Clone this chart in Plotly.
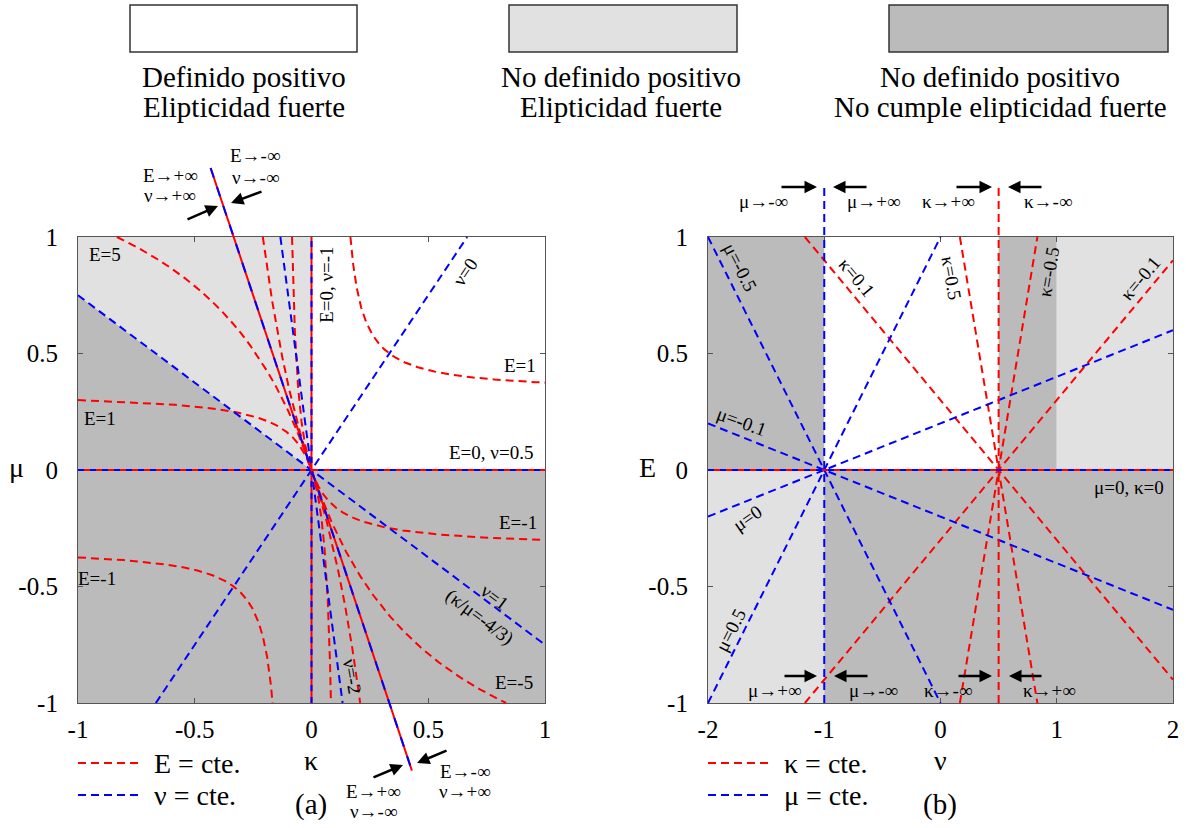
import numpy as np
import plotly.graph_objects as go

W, H = 1186, 828

# ---------------- data ----------------
# panel (a): plane (kappa, mu)
E_levels_a = [5, 1, -1, -5]            # E = cte. curves
nu_levels_a = [0, 1, -2]               # nu = cte. lines (nu=-1 -> kappa=0, nu=0.5 -> mu=0)
inf_kappa_range = [-0.432, 0.430]      # extent of the E,nu -> +-inf line (mu = -3 kappa)
# panel (b): plane (nu, E)
kappa_levels_b = [0.1, 0.5, -0.5, -0.1]
mu_levels_b = [-0.5, -0.1, 0.1, 0.5]
asym_E_range = [-1.0, 1.22]            # extent of nu=-1 (mu->+-inf) and nu=0.5 (kappa->+-inf)

ticks_a_x = [-1, -0.5, 0, 0.5, 1]
ticks_b_x = [-2, -1, 0, 1, 2]
ticks_y = [-1, -0.5, 0, 0.5, 1]
labels_a_x = ['-1', '-0.5', '0', '0.5', '1']
labels_b_x = ['-2', '-1', '0', '1', '2']
labels_y = ['-1', '-0.5', '0', '0.5', '1']

RED = '#ff0000'
BLUE = '#0000ff'
DARK = '#bbbbbb'
LIGHT = '#e1e1e1'
FONT = 'Liberation Serif, Times New Roman, serif'
DASH = '8px,5px'
LW = 2

# ---------------- layout geometry (pixels) ----------------
FL = (78, 545)
FR = (708, 1173)
FY = (237, 703)
EXT = 1.45


def px(x):
    return x / W


def py(y):
    return 1 - y / H


ydom = [py(FY[1]), py(FY[0])]
yc, yh = (ydom[0] + ydom[1]) / 2, (ydom[1] - ydom[0]) / 2
ydom_ext = [yc - yh * EXT, yc + yh * EXT]


def to_list(a):
    return [None if not np.isfinite(v) else float(v) for v in a]


def clipped(xs, ys, lim=1.0):
    ys = np.array(ys, dtype=float)
    ys[~np.isfinite(ys)] = np.nan
    ys[np.abs(ys) > lim + 1e-9] = np.nan
    return list(map(float, xs)), to_list(ys)


fig = go.Figure()

# ---------------- panel (a) curves ----------------
kgrid = np.linspace(-1, 1, 4001)
for E in E_levels_a:
    extra = [E * m / (9 * m - 3 * E) for m in (-1.0, 1.0)]
    ks = np.unique(np.concatenate([kgrid, [k for k in extra if -1 <= k <= 1], [0.0]]))
    with np.errstate(divide='ignore', invalid='ignore'):
        mu = 3 * E * ks / (9 * ks - E)
    xs, ys = clipped(ks, mu)
    fig.add_trace(go.Scatter(x=xs, y=ys, mode='lines', xaxis='x', yaxis='y3',
                             line=dict(color=RED, width=LW, dash=DASH),
                             showlegend=False, hoverinfo='skip', connectgaps=False))

for nu in nu_levels_a:
    extra = [2 * m * (1 + nu) / (3 * (1 - 2 * nu)) for m in (-1.0, 1.0)]
    ks = np.unique(np.concatenate([kgrid, [k for k in extra if -1 <= k <= 1]]))
    mu = 3 * ks * (1 - 2 * nu) / (2 * (1 + nu))
    xs, ys = clipped(ks, mu)
    fig.add_trace(go.Scatter(x=xs, y=ys, mode='lines', xaxis='x', yaxis='y3',
                             line=dict(color=BLUE, width=LW, dash=DASH),
                             showlegend=False, hoverinfo='skip'))

# E = 0 lines (kappa = 0 and mu = 0), shared with nu = -1 and nu = 0.5
for xs, ys in (([0, 0], [-1, 1]), ([-1, 1], [0, 0])):
    fig.add_trace(go.Scatter(x=xs, y=ys, mode='lines', xaxis='x', yaxis='y3',
                             line=dict(color=RED, width=LW), showlegend=False, hoverinfo='skip'))
    fig.add_trace(go.Scatter(x=xs, y=ys, mode='lines', xaxis='x', yaxis='y3',
                             line=dict(color=BLUE, width=LW, dash='6px,6px'), showlegend=False, hoverinfo='skip'))

# E -> +-inf, nu -> +-inf line : 3 kappa + mu = 0
ki = np.array(inf_kappa_range)
fig.add_trace(go.Scatter(x=list(ki), y=list(-3 * ki), mode='lines', xaxis='x', yaxis='y3',
                         line=dict(color=RED, width=LW), showlegend=False, hoverinfo='skip'))
fig.add_trace(go.Scatter(x=list(ki), y=list(-3 * ki), mode='lines', xaxis='x', yaxis='y3',
                         line=dict(color=BLUE, width=LW, dash='10px,10px'), showlegend=False, hoverinfo='skip'))

# ---------------- panel (b) curves ----------------
ngrid = np.linspace(-2, 2, 4001)
for k in kappa_levels_b:
    extra = [(1 - e / (3 * k)) / 2 for e in (-1.0, 1.0)]
    ns = np.unique(np.concatenate([ngrid, [n for n in extra if -2 <= n <= 2]]))
    E = 3 * k * (1 - 2 * ns)
    xs, ys = clipped(ns, E)
    fig.add_trace(go.Scatter(x=xs, y=ys, mode='lines', xaxis='x2', yaxis='y4',
                             line=dict(color=RED, width=LW, dash=DASH), showlegend=False, hoverinfo='skip'))

for m in mu_levels_b:
    extra = [e / (2 * m) - 1 for e in (-1.0, 1.0)]
    ns = np.unique(np.concatenate([ngrid, [n for n in extra if -2 <= n <= 2]]))
    E = 2 * m * (1 + ns)
    xs, ys = clipped(ns, E)
    fig.add_trace(go.Scatter(x=xs, y=ys, mode='lines', xaxis='x2', yaxis='y4',
                             line=dict(color=BLUE, width=LW, dash=DASH), showlegend=False, hoverinfo='skip'))

# E = 0 : mu = 0 and kappa = 0
fig.add_trace(go.Scatter(x=[-2, 2], y=[0, 0], mode='lines', xaxis='x2', yaxis='y4',
                         line=dict(color=RED, width=LW), showlegend=False, hoverinfo='skip'))
fig.add_trace(go.Scatter(x=[-2, 2], y=[0, 0], mode='lines', xaxis='x2', yaxis='y4',
                         line=dict(color=BLUE, width=LW, dash='6px,6px'), showlegend=False, hoverinfo='skip'))
# nu = -1 (mu -> +-inf) and nu = 0.5 (kappa -> +-inf)
fig.add_trace(go.Scatter(x=[-1, -1], y=asym_E_range, mode='lines', xaxis='x2', yaxis='y4',
                         line=dict(color=BLUE, width=LW, dash=DASH), showlegend=False, hoverinfo='skip'))
fig.add_trace(go.Scatter(x=[0.5, 0.5], y=asym_E_range, mode='lines', xaxis='x2', yaxis='y4',
                         line=dict(color=RED, width=LW, dash=DASH), showlegend=False, hoverinfo='skip'))

# dummy traces to anchor the main subplots
fig.add_trace(go.Scatter(x=[None], y=[None], xaxis='x', yaxis='y', showlegend=False))
fig.add_trace(go.Scatter(x=[None], y=[None], xaxis='x2', yaxis='y2', showlegend=False))

# ---------------- shading ----------------
nu1_mu_at_m1 = -3 * (-1) * (1 - 2 * 1) / (2 * (1 + 1))  # nu = 1 line at kappa = -1
shapes = []


def rect(xr, yr, x0, y0, x1, y1, color):
    return dict(type='rect', xref=xr, yref=yr, x0=x0, y0=y0, x1=x1, y1=y1,
                fillcolor=color, line=dict(width=0), layer='below')


shapes.append(rect('x', 'y', -1, -1, 1, 0, DARK))
shapes.append(dict(type='path', xref='x', yref='y', layer='below', fillcolor=DARK, line=dict(width=0),
                   path=f'M -1,0 L 0,0 L -1,{-nu1_mu_at_m1} Z'))
shapes.append(dict(type='path', xref='x', yref='y', layer='below', fillcolor=LIGHT, line=dict(width=0),
                   path=f'M -1,{-nu1_mu_at_m1} L 0,0 L 0,1 L -1,1 Z'))
# panel (b)
shapes.append(rect('x2', 'y2', -2, 0, -1, 1, DARK))
shapes.append(rect('x2', 'y2', 0.5, 0, 1, 1, DARK))
shapes.append(rect('x2', 'y2', 1, 0, 2, 1, LIGHT))
shapes.append(rect('x2', 'y2', -2, -1, -1, 0, LIGHT))
shapes.append(rect('x2', 'y2', -1, -1, 2, 0, DARK))

# top legend boxes
box_specs = [((130, 5, 357, 52), 'white'), ((509, 5, 737, 52), LIGHT), ((889, 5, 1168, 52), DARK)]
for (x0, y0, x1, y1), c in box_specs:
    shapes.append(dict(type='rect', xref='paper', yref='paper', x0=px(x0), x1=px(x1), y0=py(y1), y1=py(y0),
                       fillcolor=c, line=dict(color='#333333', width=1.5)))

# bottom legends samples
for (x0, x1, y, c) in [(78, 138, 763, RED), (78, 138, 795, BLUE), (708, 768, 763, RED), (708, 768, 795, BLUE)]:
    shapes.append(dict(type='line', xref='paper', yref='paper', x0=px(x0), x1=px(x1), y0=py(y), y1=py(y),
                       line=dict(color=c, width=LW, dash=DASH)))

ann = []


def txt(x, y, s, size=19, angle=0, xref='paper', yref='paper', xanchor='center'):
    if xref == 'paper':
        x = px(x)
    if yref == 'paper':
        y = py(y)
    ann.append(dict(x=x, y=y, xref=xref, yref=yref, text=s, showarrow=False, textangle=angle,
                    xanchor=xanchor, yanchor='middle', font=dict(family=FONT, size=size, color='black')))


# top legend texts
top_texts = [(244, 'Definido positivo', 'Elipticidad fuerte'),
             (621, 'No definido positivo', 'Elipticidad fuerte'),
             (1000, 'No definido positivo', 'No cumple elipticidad fuerte')]
for x, a, b in top_texts:
    txt(x, 77, a, size=29)
    txt(x, 107, b, size=29)

# bottom legend texts
txt(152, 763, 'E = cte.', size=28, xanchor='left')
txt(152, 795, 'ν = cte.', size=28, xanchor='left')
txt(782, 763, 'κ = cte.', size=28, xanchor='left')
txt(782, 795, 'μ = cte.', size=28, xanchor='left')
txt(311, 804, '(a)', size=29)
txt(940, 804, '(b)', size=29)

# axis titles
txt(16, 468, 'μ', size=28)
txt(311, 760, 'κ', size=28)
txt(647, 468, 'E', size=28)
txt(940, 760, 'ν', size=28)

# curve labels panel (a)
lab_a = [(-0.884, 0.923, 'E=5', 0), (0.066, 0.794, 'E=0, ν=-1', -90), (0.66, 0.85, 'ν=0', -56),
         (0.895, 0.45, 'E=1', 0), (0.77, 0.073, 'E=0, ν=0.5', 0), (-0.906, 0.219, 'E=1', 0),
         (0.884, -0.227, 'E=-1', 0), (-0.92, -0.464, 'E=-1', 0),
         (0.751, -0.592, 'ν=1<br>(κ/μ=-4/3)', 37), (0.173, -0.888, 'ν=-2', 80),
         (0.867, -0.914, 'E=-5', 0)]
for x, y, s, a in lab_a:
    txt(x, y, s, size=19, angle=a, xref='x', yref='y')

lab_b = [(-1.725, 0.867, 'μ=-0.5', 63), (-0.718, 0.828, 'κ=0.1', 50), (0.099, 0.824, 'κ=0.5', 80),
         (0.935, 0.85, 'κ=-0.5', -80), (1.717, 0.824, 'κ=-0.1', -50), (-1.716, 0.206, 'μ=-0.1', 20),
         (-1.665, -0.206, 'μ=0', -35), (-1.81, -0.687, 'μ=0.5', -63), (1.622, -0.073, 'μ=0, κ=0', 0)]
for x, y, s, a in lab_b:
    txt(x, y, s, size=19, angle=a, xref='x2', yref='y2')

# arrow texts
arrow_texts = [(170, 175, 'E→+∞'), (170, 196, 'ν→+∞'), (255, 156, 'E→-∞'), (255, 177, 'ν→-∞'),
               (373, 791, 'E→+∞'), (373, 811, 'ν→-∞'), (465, 771, 'E→-∞'), (465, 791, 'ν→+∞'),
               (763, 202, 'μ→-∞'), (873, 202, 'μ→+∞'), (948, 202, 'κ→+∞'), (1048, 202, 'κ→-∞'),
               (774, 690, 'μ→+∞'), (874, 690, 'μ→-∞'), (948, 690, 'κ→-∞'), (1049, 690, 'κ→+∞')]
for x, y, s in arrow_texts:
    txt(x, y, s, size=19)

arrows = [((186, 220), (218, 206)), ((263, 191), (231, 203)),
          ((372, 778), (403, 765)), ((448, 750), (417, 763)),
          ((780, 187), (817, 187)), ((868, 187), (833, 187)),
          ((955, 187), (992, 187)), ((1043, 187), (1008, 187)),
          ((783, 676), (817, 676)), ((869, 676), (834, 676)),
          ((957, 676), (992, 676)), ((1043, 676), (1009, 676))]
for (tx, ty), (hx, hy) in arrows:
    ann.append(dict(x=px(hx), y=py(hy), xref='paper', yref='paper', ax=tx - hx, ay=ty - hy,
                    axref='pixel', ayref='pixel', showarrow=True, arrowhead=2, arrowsize=1,
                    arrowwidth=2.5, arrowcolor='black', text=''))

axis_common = dict(showgrid=False, zeroline=False, showline=True, mirror='ticks', linecolor='#555555',
                   linewidth=1.2, ticks='inside', ticklen=5, tickcolor='#555555', automargin=False,
                   tickfont=dict(family=FONT, size=25, color='black'), fixedrange=True)

fig.update_layout(
    width=W, height=H, margin=dict(l=0, r=0, t=0, b=0, pad=0, autoexpand=False),
    paper_bgcolor='white', plot_bgcolor='rgba(0,0,0,0)', showlegend=False,
    xaxis=dict(domain=[px(FL[0]), px(FL[1])], range=[-1, 1], anchor='y', tickvals=ticks_a_x,
               ticktext=labels_a_x, ticklabelstandoff=4, **axis_common),
    yaxis=dict(domain=ydom, range=[-1, 1], anchor='x', tickvals=ticks_y, ticktext=labels_y,
               ticklabelstandoff=14, **axis_common),
    xaxis2=dict(domain=[px(FR[0]), px(FR[1])], range=[-2, 2], anchor='y2', tickvals=ticks_b_x,
                ticktext=labels_b_x, ticklabelstandoff=4, **axis_common),
    yaxis2=dict(domain=ydom, range=[-1, 1], anchor='x2', tickvals=ticks_y, ticktext=labels_y,
                ticklabelstandoff=14, **axis_common),
    yaxis3=dict(domain=ydom_ext, range=[-EXT, EXT], anchor='x', visible=False, fixedrange=True),
    yaxis4=dict(domain=ydom_ext, range=[-EXT, EXT], anchor='x2', visible=False, fixedrange=True),
    shapes=shapes, annotations=ann,
)

fig.write_html('out.html')
